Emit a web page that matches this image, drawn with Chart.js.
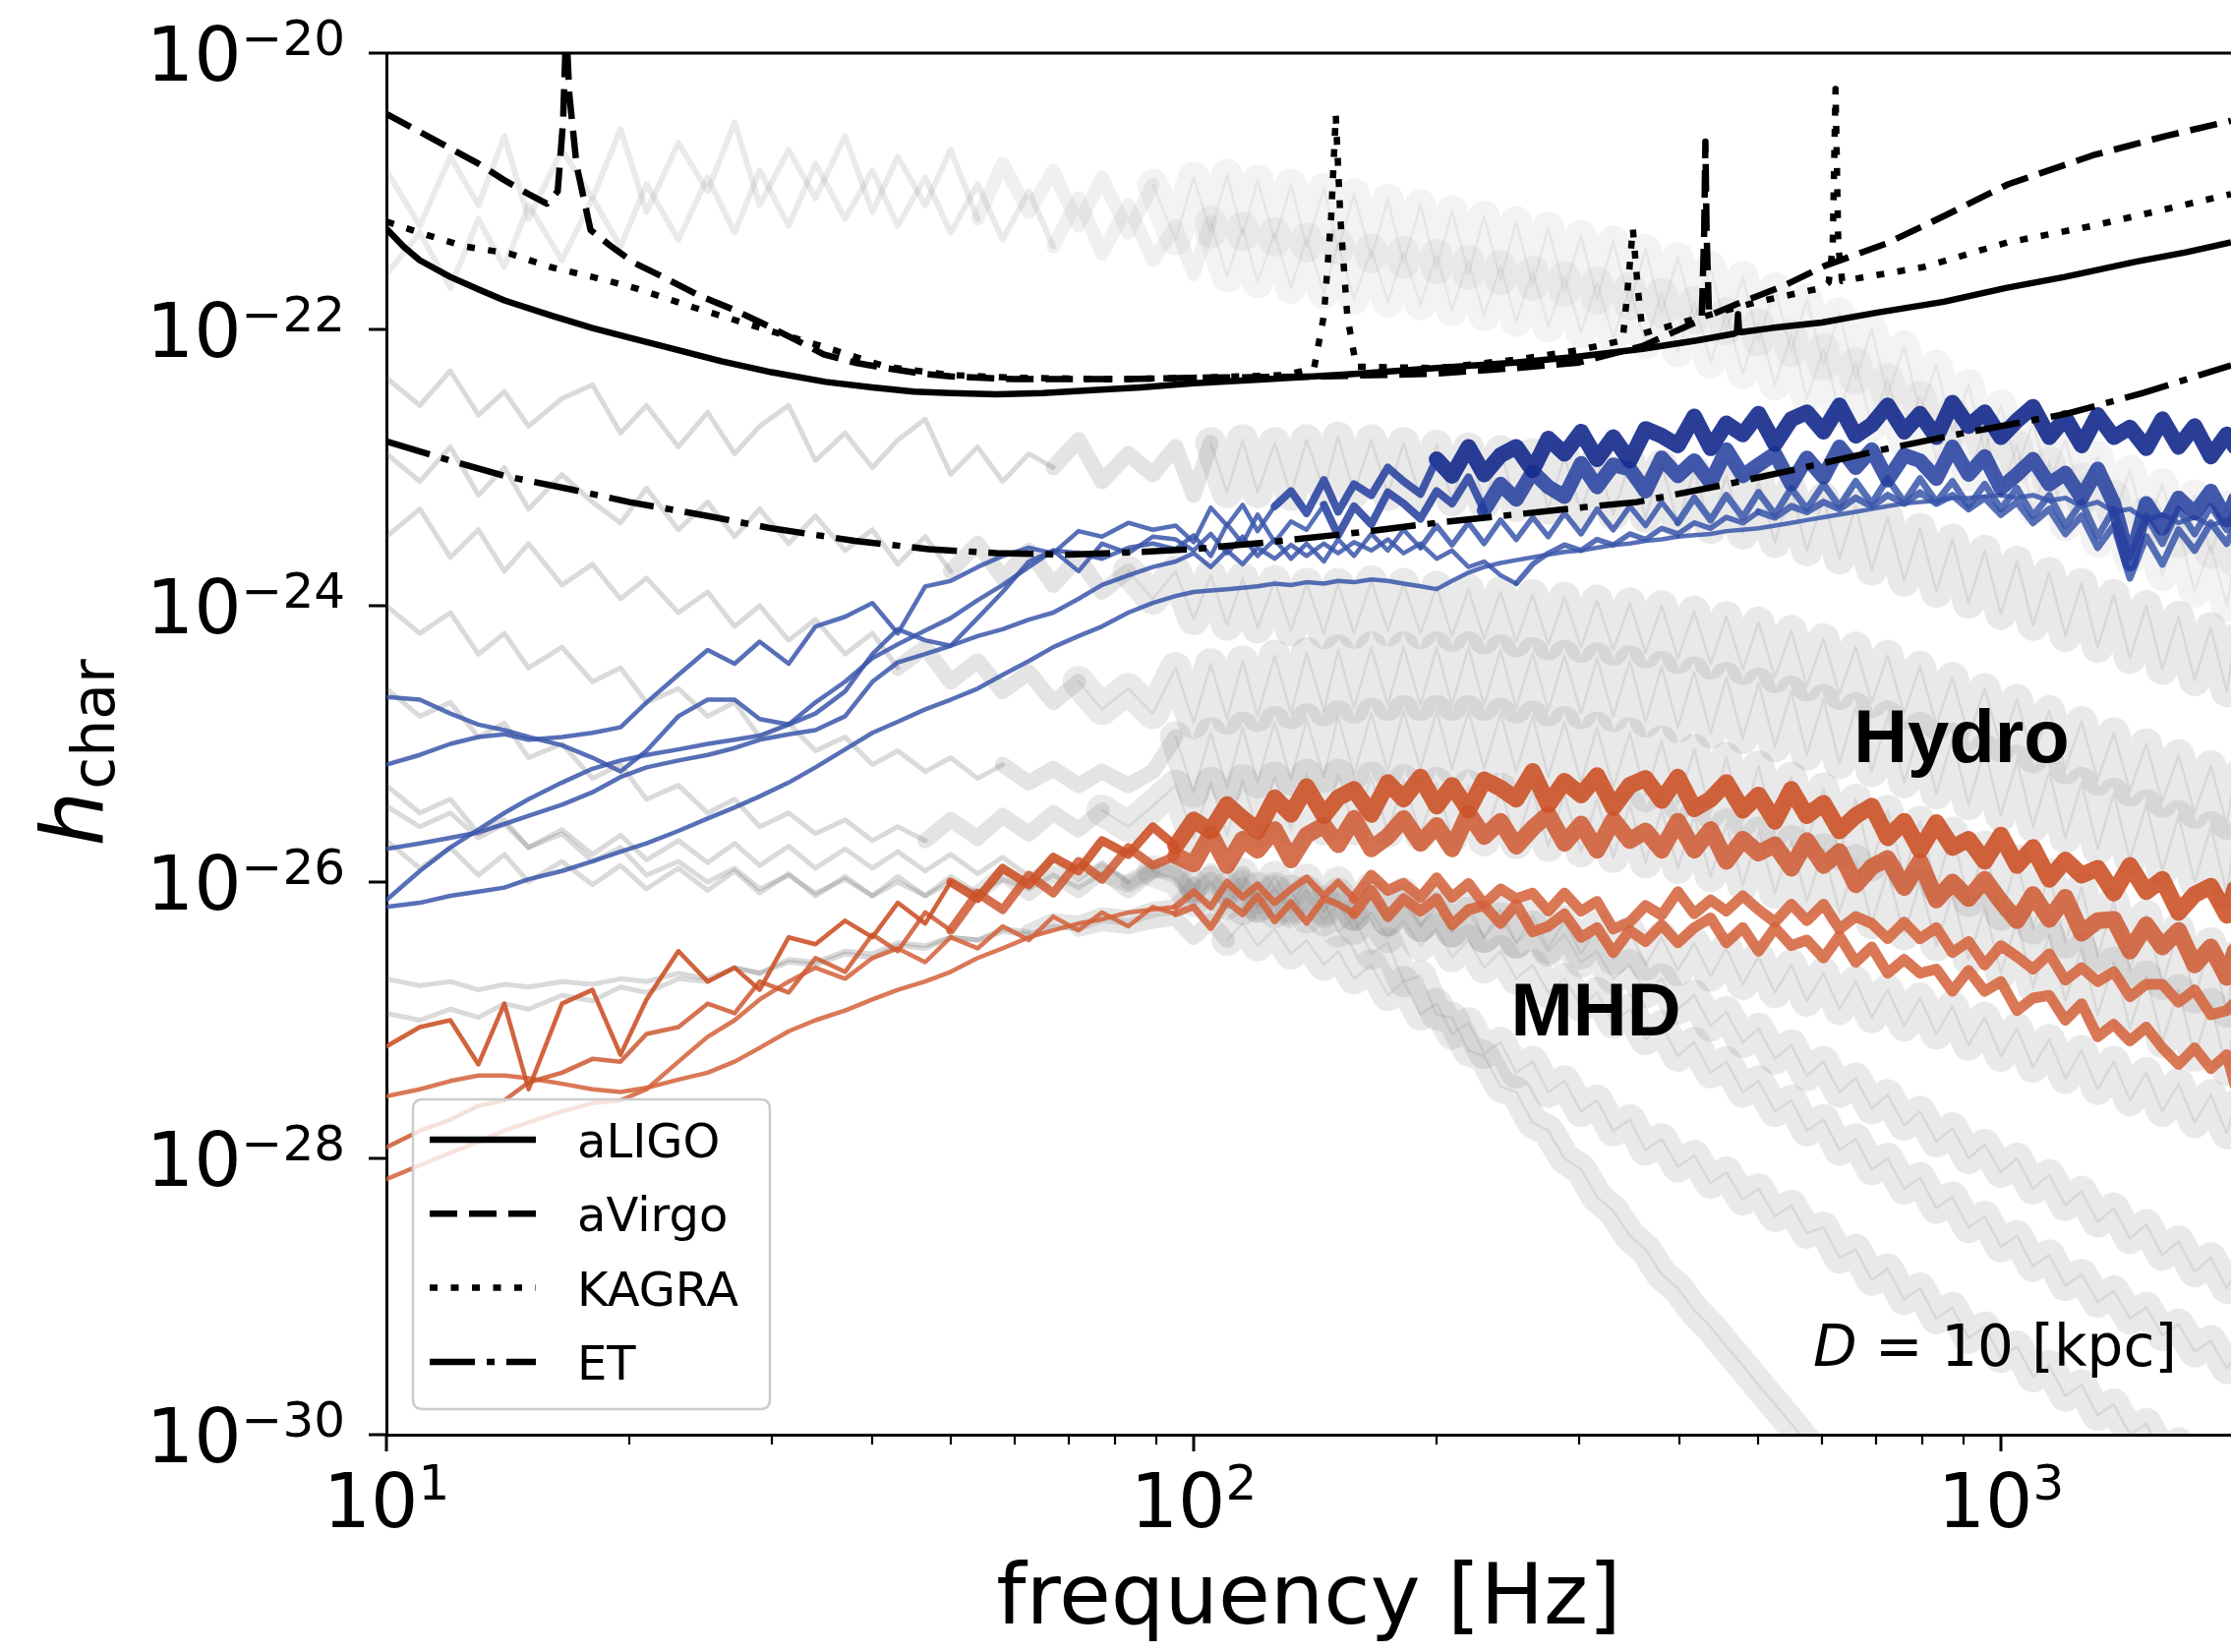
<!DOCTYPE html>
<html>
<head>
<meta charset="utf-8">
<title>h_char spectra vs detector sensitivities</title>
<script src="https://cdn.jsdelivr.net/npm/chart.js@4.4.1/dist/chart.umd.min.js"></script>
<style>
  html, body { margin: 0; padding: 0; background: #fff; }
</style>
</head>
<body>
<canvas id="mycanvas" width="2269" height="1680"></canvas>
<script>
// ---- data (all h values are log10 of h_char) ----

// frequency grid [Hz] of the simulated spectra
var freq = [10, 11, 12, 13, 14, 15, 16.5, 18, 19.5, 21, 23, 25, 27, 29, 31.5, 34, 37, 40, 43, 46.5, 50, 54, 58, 62.5, 67, 72, 77, 83, 89,
  95, 100, 105, 110, 115, 120, 126, 132, 138, 145, 151, 158, 166, 174, 182, 191, 200, 209, 219, 229, 240,
  251, 263, 275, 288, 302, 316, 331, 347, 363, 380, 398, 417, 437, 457, 479, 501, 525, 550, 575, 603,
  631, 661, 692, 724, 759, 794, 832, 871, 912, 955, 1000, 1047, 1096, 1148, 1202, 1259, 1318, 1380, 1445, 1514,
  1585, 1660, 1738, 1820, 1905, 1950];

// detector curves
var ligoF = [10, 10.5, 11, 12, 13, 14, 16, 18, 20, 23, 26, 30, 35, 40, 45, 50, 57, 65, 75, 86, 100, 124, 160, 200, 250, 297, 360, 420, 468, 471, 472.5, 474, 477, 520, 600, 700, 850, 1014, 1200, 1470, 1700, 1928];
var ligoH = [-21.27, -21.40, -21.50, -21.62, -21.71, -21.79, -21.90, -21.99, -22.06, -22.15, -22.23, -22.31, -22.38, -22.42, -22.45, -22.46, -22.47, -22.46, -22.44, -22.42, -22.39, -22.36, -22.32, -22.28, -22.24, -22.20, -22.14, -22.08, -22.03, -22.02, -21.89, -22.02, -22.02, -21.99, -21.95, -21.88, -21.80, -21.70, -21.62, -21.51, -21.44, -21.37];

var virgoF = [10, 11, 12, 13, 14, 15, 15.8, 16.3, 16.55, 16.7, 16.85, 17.2, 17.9, 19, 20.3, 22, 24.3, 27, 29.1, 32, 34.8, 38, 41.6, 46, 50, 60, 80, 100, 145, 200, 250, 300, 360, 400, 426, 429, 430.5, 432, 435, 474, 540, 605, 720, 850, 1020, 1300, 1600, 1928];
var virgoH = [-20.44, -20.57, -20.69, -20.80, -20.92, -21.02, -21.09, -21.00, -20.50, -19.80, -20.30, -20.81, -21.28, -21.40, -21.52, -21.62, -21.75, -21.86, -21.95, -22.07, -22.18, -22.24, -22.28, -22.32, -22.34, -22.36, -22.36, -22.35, -22.34, -22.32, -22.28, -22.24, -22.12, -22.00, -21.93, -21.30, -20.64, -21.30, -21.90, -21.81, -21.68, -21.54, -21.38, -21.18, -20.95, -20.74, -20.60, -20.49];

var kagraF = [10, 11, 12.5, 14.2, 16, 18, 20.3, 24, 29.1, 35, 41.6, 50, 60, 80, 100, 130, 141, 145, 148, 150, 152, 155, 159, 200, 250, 300, 340, 345, 350, 355, 360, 420, 500, 600, 612, 619, 624, 629, 636, 650, 800, 1020, 1300, 1600, 1928];
var kagraH = [-21.22, -21.30, -21.40, -21.45, -21.55, -21.62, -21.70, -21.84, -21.99, -22.13, -22.27, -22.33, -22.35, -22.36, -22.35, -22.33, -22.28, -21.90, -21.20, -20.45, -21.20, -21.90, -22.27, -22.28, -22.22, -22.15, -22.08, -21.70, -21.27, -21.70, -22.03, -21.92, -21.80, -21.70, -21.66, -21.40, -20.26, -21.40, -21.65, -21.64, -21.55, -21.37, -21.25, -21.13, -21.02];

var etF = [10, 12, 14, 17, 20, 25, 30, 38, 47, 57, 70, 86, 100, 124, 160, 200, 250, 300, 354, 450, 550, 714, 900, 1208, 1500, 1928];
var etH = [-22.81, -22.95, -23.06, -23.16, -23.25, -23.35, -23.44, -23.53, -23.59, -23.62, -23.63, -23.61, -23.59, -23.54, -23.47, -23.40, -23.34, -23.29, -23.25, -23.13, -23.02, -22.87, -22.75, -22.61, -22.46, -22.26];

// blue spectra (on freq)
var blueA = [-25.15, -25.08, -25.00, -24.95, -24.93, -24.97, -24.95, -24.92, -24.88, -24.70, -24.50, -24.32, -24.42, -24.26, -24.42, -24.15, -24.08, -23.98, -24.20, -23.86, -23.82, -23.72, -23.64, -23.58, -23.62, -23.46, -23.50, -23.40, -23.45,
  -23.42, -23.54, -23.29, -23.42, -23.27, -23.46, -23.28, -23.17, -23.33, -23.09,
  -23.32, -23.12, -23.20, -23.00, -23.10, -23.19, -22.94, -23.06, -22.85, -23.05,
  -22.91, -22.85, -23.02, -22.79, -22.90, -22.74, -22.94, -22.78, -22.95, -22.72,
  -22.77, -22.84, -22.63, -22.86, -22.68, -22.76, -22.61, -22.83, -22.65, -22.60,
  -22.74, -22.55, -22.77, -22.69, -22.55, -22.74, -22.61, -22.78, -22.53, -22.70,
  -22.60, -22.78, -22.66, -22.56, -22.78, -22.64, -22.84, -22.62, -22.78, -22.71,
  -22.86, -22.65, -22.85, -22.70, -22.92, -22.76, -22.85];
var blueB = [-26.13, -25.92, -25.75, -25.62, -25.50, -25.40, -25.28, -25.18, -25.12, -25.08, -25.04, -25.00, -24.97, -24.94, -24.86, -24.70, -24.55, -24.38, -24.28, -24.18, -24.09, -23.96, -23.85, -23.72, -23.60, -23.62, -23.66, -23.58, -23.55,
  -23.59, -23.49, -23.64, -23.41, -23.55, -23.34, -23.54, -23.39, -23.45, -23.27,
  -23.49, -23.28, -23.41, -23.18, -23.26, -23.37, -23.17, -23.26, -23.07, -23.31,
  -23.12, -23.23, -23.03, -23.14, -23.21, -22.97, -23.14, -22.98, -23.01, -23.17,
  -22.93, -23.06, -22.95, -23.11, -22.87, -23.06, -22.98, -22.90, -23.12, -22.93,
  -23.07, -22.85, -23.00, -22.87, -23.09, -22.91, -22.95, -23.08, -22.85, -23.05,
  -22.92, -23.15, -23.05, -22.94, -23.12, -23.04, -23.22, -23.01, -23.26, -23.70,
  -23.26, -23.44, -23.22, -23.33, -23.17, -23.38, -23.23];
var blueC = [-24.66, -24.68, -24.78, -24.86, -24.90, -24.95, -25.01, -25.10, -25.20, -25.05, -24.80, -24.68, -24.68, -24.82, -24.86, -24.78, -24.62, -24.35, -24.17, -24.25, -24.29, -24.09, -23.90, -23.68, -23.60, -23.75, -23.55, -23.62, -23.50,
  -23.52, -23.60, -23.48, -23.62, -23.50, -23.64, -23.52, -23.66, -23.55, -23.68,
  -23.52, -23.64, -23.48, -23.60, -23.45, -23.58, -23.42, -23.56, -23.40, -23.55,
  -23.38, -23.52, -23.36, -23.50, -23.33, -23.48, -23.30, -23.45, -23.28, -23.42,
  -23.25, -23.40, -23.22, -23.38, -23.20, -23.36, -23.18, -23.34, -23.15, -23.30,
  -23.12, -23.28, -23.10, -23.26, -23.08, -23.25, -23.08, -23.25, -23.10, -23.28,
  -23.12, -23.30, -23.15, -23.35, -23.20, -23.42, -23.25, -23.50, -23.30, -23.65,
  -23.35, -23.55, -23.30, -23.48, -23.28, -23.45, -23.30];
var blueD = [-25.76, -25.72, -25.68, -25.64, -25.58, -25.52, -25.44, -25.35, -25.24, -25.17, -25.12, -25.08, -25.03, -24.97, -24.93, -24.90, -24.80, -24.55, -24.41, -24.35, -24.29, -24.22, -24.17, -24.10, -24.05, -23.95, -23.85, -23.78, -23.72,
  -23.68, -23.62, -23.72, -23.60, -23.70, -23.58, -23.66, -23.56, -23.64, -23.55,
  -23.62, -23.54, -23.60, -23.52, -23.62, -23.55, -23.66, -23.60, -23.72, -23.68,
  -23.78, -23.84, -23.70, -23.62, -23.56, -23.60, -23.52, -23.56, -23.48, -23.52,
  -23.44, -23.48, -23.40, -23.44, -23.36, -23.40, -23.32, -23.36, -23.28, -23.32,
  -23.25, -23.30, -23.22, -23.28, -23.20, -23.26, -23.18, -23.26, -23.20, -23.30,
  -23.22, -23.34, -23.25, -23.40, -23.30, -23.48, -23.35, -23.58, -23.42, -23.80,
  -23.50, -23.70, -23.45, -23.60, -23.40, -23.55, -23.42];
var blueE = [-26.18, -26.15, -26.10, -26.07, -26.04, -25.98, -25.92, -25.85, -25.78, -25.72, -25.63, -25.54, -25.46, -25.38, -25.28, -25.17, -25.04, -24.92, -24.84, -24.75, -24.68, -24.60, -24.50, -24.40, -24.30, -24.22, -24.15, -24.05, -23.98,
  -23.93, -23.90, -23.89, -23.88, -23.87, -23.86, -23.84, -23.85, -23.83, -23.84,
  -23.82, -23.83, -23.81, -23.82, -23.84, -23.86, -23.88, -23.82, -23.76, -23.72,
  -23.69, -23.67, -23.65, -23.63, -23.61, -23.60, -23.58, -23.56, -23.55, -23.53,
  -23.52, -23.50, -23.49, -23.48, -23.46, -23.45, -23.44, -23.42, -23.40, -23.38,
  -23.36, -23.34, -23.32, -23.30, -23.28, -23.26, -23.25, -23.24, -23.22, -23.22,
  -23.21, -23.20, -23.22, -23.20, -23.24, -23.22, -23.28, -23.25, -23.32, -23.30,
  -23.38, -23.34, -23.40, -23.36, -23.42, -23.38, -23.40];

// orange spectra (on freq)
var orangeA = [-27.19, -27.05, -27.00, -27.32, -26.88, -27.50, -26.88, -26.78, -27.25, -26.85, -26.50, -26.72, -26.62, -26.78, -26.40, -26.45, -26.28, -26.40, -26.15, -26.30, -26.00, -26.12, -25.90, -26.02, -25.82, -25.92, -25.70, -25.80, -25.60,
  -25.74, -25.55, -25.63, -25.44, -25.54, -25.63, -25.39, -25.51, -25.31, -25.52,
  -25.39, -25.33, -25.51, -25.28, -25.40, -25.24, -25.45, -25.30, -25.48, -25.26,
  -25.32, -25.40, -25.20, -25.44, -25.27, -25.37, -25.23, -25.46, -25.30, -25.25,
  -25.41, -25.24, -25.47, -25.40, -25.28, -25.48, -25.37, -25.56, -25.33, -25.52,
  -25.43, -25.63, -25.52, -25.45, -25.68, -25.56, -25.77, -25.57, -25.75, -25.69,
  -25.85, -25.66, -25.88, -25.75, -25.98, -25.84, -25.95, -25.90, -26.08, -25.88,
  -26.07, -25.98, -26.22, -26.09, -26.03, -26.24, -26.05];
var orangeB = [-27.92, -27.80, -27.72, -27.62, -27.58, -27.45, -27.38, -27.28, -27.30, -27.10, -27.05, -26.88, -26.95, -26.72, -26.80, -26.55, -26.65, -26.38, -26.50, -26.22, -26.35, -26.08, -26.20, -25.95, -26.08, -25.85, -25.98, -25.75, -25.88,
  -25.81, -25.87, -25.65, -25.88, -25.69, -25.77, -25.62, -25.84, -25.66, -25.59,
  -25.73, -25.54, -25.76, -25.67, -25.54, -25.72, -25.59, -25.76, -25.50, -25.67,
  -25.56, -25.74, -25.61, -25.51, -25.72, -25.58, -25.77, -25.55, -25.70, -25.63,
  -25.77, -25.56, -25.77, -25.62, -25.85, -25.69, -25.79, -25.73, -25.90, -25.70,
  -25.88, -25.78, -26.02, -25.89, -25.83, -26.04, -25.85, -26.13, -26.00, -26.12,
  -25.98, -26.14, -26.28, -26.09, -26.27, -26.11, -26.37, -26.28, -26.27, -26.50,
  -26.31, -26.47, -26.35, -26.60, -26.47, -26.69, -26.50];
var orangeC = [-27.55, -27.50, -27.44, -27.40, -27.40, -27.42, -27.46, -27.50, -27.52, -27.49, -27.43, -27.38, -27.30, -27.20, -27.08, -27.00, -26.93, -26.85, -26.78, -26.72, -26.65, -26.55, -26.48, -26.40, -26.35, -26.30, -26.27, -26.22, -26.20,
  -26.18, -26.07, -26.18, -26.00, -26.11, -26.02, -26.15, -26.05, -25.97, -26.10,
  -26.00, -26.12, -25.95, -26.06, -26.01, -26.11, -25.97, -26.11, -26.01, -26.16,
  -26.05, -26.12, -26.08, -26.21, -26.08, -26.21, -26.14, -26.34, -26.29, -26.17,
  -26.24, -26.07, -26.23, -26.13, -26.21, -26.10, -26.20, -26.29, -26.16, -26.28,
  -26.16, -26.34, -26.25, -26.30, -26.41, -26.29, -26.41, -26.33, -26.51, -26.43,
  -26.60, -26.46, -26.54, -26.63, -26.52, -26.71, -26.62, -26.72, -26.65, -26.83,
  -26.74, -26.74, -26.87, -26.78, -26.96, -26.93, -26.87];
var orangeD = [-28.15, -28.05, -27.96, -27.88, -27.80, -27.74, -27.66, -27.60, -27.58, -27.50, -27.30, -27.12, -27.00, -26.85, -26.72, -26.62, -26.70, -26.55, -26.48, -26.58, -26.40, -26.48, -26.32, -26.42, -26.25, -26.35, -26.22, -26.32, -26.18,
  -26.23, -26.18, -26.33, -26.14, -26.23, -26.10, -26.28, -26.15, -26.29, -26.12,
  -26.16, -26.23, -26.06, -26.25, -26.12, -26.21, -26.12, -26.31, -26.20, -26.17,
  -26.30, -26.16, -26.36, -26.32, -26.23, -26.40, -26.33, -26.51, -26.35, -26.43,
  -26.31, -26.44, -26.33, -26.26, -26.44, -26.33, -26.50, -26.33, -26.46, -26.42,
  -26.55, -26.39, -26.58, -26.47, -26.66, -26.56, -26.66, -26.63, -26.79, -26.64,
  -26.79, -26.72, -26.93, -26.84, -26.82, -27.00, -26.88, -27.12, -27.03, -27.15,
  -27.05, -27.20, -27.32, -27.20, -27.35, -27.25, -27.47];

// grey background spectra (on freq)
var greyA = [-20.85, -21.25, -20.75, -21.10, -20.60, -21.20, -20.70, -21.05, -20.55, -21.15, -20.65, -21.00, -20.50, -21.10, -20.70, -21.05, -20.60, -21.15, -20.75, -21.10, -20.70, -21.20, -20.80, -21.15, -20.85, -21.25, -20.90, -21.30, -20.95,
  -21.35, -20.90, -21.30, -20.88, -21.32, -20.92, -21.36, -20.95, -21.40, -20.98,
  -21.42, -21.02, -21.48, -21.06, -21.52, -21.10, -21.56, -21.14, -21.60, -21.18,
  -21.64, -21.22, -21.68, -21.26, -21.72, -21.32, -21.78, -21.36, -21.82, -21.42,
  -21.88, -21.48, -21.92, -21.55, -22.00, -21.62, -22.08, -21.70, -22.16, -21.78,
  -22.26, -21.88, -22.36, -22.00, -22.48, -22.12, -22.60, -22.26, -22.74, -22.40,
  -22.88, -22.55, -23.00, -22.68, -23.12, -22.80, -23.24, -22.92, -23.36, -23.02,
  -23.46, -23.12, -23.54, -23.20, -23.62, -23.28, -23.68];
var greyB = [-21.60, -21.30, -21.70, -21.20, -21.55, -21.10, -21.50, -21.05, -21.40, -20.95, -21.35, -20.90, -21.30, -20.85, -21.25, -20.80, -21.20, -20.85, -21.25, -20.90, -21.30, -20.95, -21.35, -21.00, -21.40, -21.05, -21.45, -21.10, -21.50,
  -21.25, -21.60, -21.22, -21.62, -21.26, -21.66, -21.30, -21.70, -21.34, -21.74,
  -21.38, -21.78, -21.42, -21.80, -21.44, -21.82, -21.46, -21.86, -21.50, -21.90,
  -21.54, -21.94, -21.58, -21.98, -21.62, -22.02, -21.66, -22.06, -21.70, -22.10,
  -21.74, -22.16, -21.80, -22.24, -21.88, -22.32, -21.96, -22.40, -22.04, -22.50,
  -22.14, -22.60, -22.24, -22.70, -22.36, -22.82, -22.48, -22.94, -22.60, -23.06,
  -22.72, -23.18, -22.84, -23.30, -22.96, -23.42, -23.08, -23.54, -23.20, -23.66,
  -23.32, -23.78, -23.44, -23.90, -23.56, -24.00, -23.66];
var greyC = [-22.35, -22.55, -22.30, -22.62, -22.45, -22.70, -22.50, -22.40, -22.75, -22.55, -22.85, -22.60, -22.90, -22.70, -22.55, -22.95, -22.75, -23.00, -22.80, -22.65, -23.05, -22.85, -23.10, -22.90, -23.00, -22.80, -23.10, -22.90, -23.05,
  -22.85, -23.20, -22.82, -23.18, -22.80, -23.18, -22.82, -23.20, -22.80, -23.16,
  -22.78, -23.18, -22.80, -23.20, -22.82, -23.22, -22.84, -23.24, -22.86, -23.26,
  -22.88, -23.28, -22.90, -23.30, -22.92, -23.32, -22.94, -23.34, -22.96, -23.36,
  -22.98, -23.40, -23.02, -23.44, -23.06, -23.48, -23.10, -23.54, -23.16, -23.60,
  -23.22, -23.66, -23.28, -23.74, -23.36, -23.82, -23.44, -23.90, -23.52, -23.98,
  -23.60, -24.06, -23.68, -24.14, -23.76, -24.22, -23.84, -24.30, -23.92, -24.38,
  -24.00, -24.46, -24.08, -24.54, -24.16, -24.62, -24.24];
var greyD = [-22.90, -23.10, -22.85, -23.20, -23.00, -23.30, -23.05, -23.25, -23.40, -23.15, -23.45, -23.25, -23.50, -23.30, -23.55, -23.35, -23.60, -23.45, -23.70, -23.50, -23.75, -23.55, -23.80, -23.60, -23.85, -23.65, -23.90, -23.75, -23.95,
  -23.75, -24.10, -23.78, -24.14, -23.80, -24.16, -23.82, -24.18, -23.84, -24.20,
  -23.84, -24.20, -23.82, -24.18, -23.84, -24.20, -23.86, -24.22, -23.88, -24.24,
  -23.90, -24.26, -23.92, -24.28, -23.94, -24.30, -23.96, -24.32, -23.98, -24.34,
  -24.00, -24.38, -24.04, -24.42, -24.08, -24.46, -24.12, -24.52, -24.18, -24.58,
  -24.24, -24.64, -24.30, -24.70, -24.36, -24.78, -24.44, -24.86, -24.52, -24.94,
  -24.60, -25.02, -24.68, -25.10, -24.76, -25.18, -24.84, -25.26, -24.92, -25.34,
  -25.00, -25.42, -25.08, -25.50, -25.16, -25.58, -25.24];
var greyE = [-23.50, -23.30, -23.65, -23.45, -23.75, -23.55, -23.85, -23.70, -23.95, -23.80, -24.05, -23.90, -24.15, -24.00, -24.25, -24.10, -24.35, -24.20, -24.45, -24.30, -24.55, -24.40, -24.62, -24.48, -24.70, -24.55, -24.75, -24.60, -24.78,
  -24.45, -24.85, -24.42, -24.82, -24.40, -24.80, -24.36, -24.78, -24.34, -24.76,
  -24.32, -24.74, -24.30, -24.72, -24.30, -24.72, -24.30, -24.72, -24.30, -24.72,
  -24.32, -24.74, -24.34, -24.76, -24.36, -24.78, -24.38, -24.80, -24.40, -24.84,
  -24.44, -24.88, -24.48, -24.92, -24.52, -24.96, -24.56, -25.02, -24.62, -25.08,
  -24.68, -25.14, -24.74, -25.20, -24.80, -25.28, -24.88, -25.36, -24.96, -25.44,
  -25.04, -25.52, -25.12, -25.60, -25.20, -25.68, -25.28, -25.76, -25.36, -25.84,
  -25.44, -25.92, -25.52, -26.00, -25.60, -26.08, -25.68];
var greyF = [-24.00, -24.20, -24.05, -24.35, -24.20, -24.45, -24.30, -24.55, -24.45, -24.70, -24.60, -24.80, -24.70, -24.95, -24.85, -25.05, -24.95, -25.15, -25.05, -25.20, -25.10, -25.25, -25.15, -25.28, -25.18, -25.30, -25.20, -25.30, -25.20,
  -24.95, -25.35, -24.92, -25.32, -24.88, -25.28, -24.84, -25.26, -24.82, -25.24,
  -24.80, -25.22, -24.78, -25.20, -24.76, -25.18, -24.76, -25.18, -24.76, -25.18,
  -24.78, -25.20, -24.80, -25.24, -24.84, -25.28, -24.88, -25.32, -24.92, -25.38,
  -24.98, -25.44, -25.04, -25.50, -25.10, -25.56, -25.16, -25.64, -25.24, -25.72,
  -25.32, -25.80, -25.40, -25.88, -25.48, -25.96, -25.56, -26.04, -25.64, -26.14,
  -25.74, -26.24, -25.84, -26.34, -25.94, -26.44, -26.04, -26.54, -26.14, -26.64,
  -26.24, -26.74, -26.34, -26.84, -26.44, -26.94, -26.54];
var greyG = [-24.60, -24.80, -24.70, -24.95, -24.85, -25.10, -25.00, -25.25, -25.15, -25.40, -25.30, -25.50, -25.40, -25.60, -25.50, -25.65, -25.55, -25.70, -25.60, -25.70, -25.55, -25.68, -25.52, -25.65, -25.50, -25.62, -25.48, -25.60, -25.45,
  -25.30, -25.68, -25.28, -25.66, -25.26, -25.64, -25.24, -25.62, -25.22, -25.62,
  -25.22, -25.62, -25.24, -25.64, -25.26, -25.66, -25.28, -25.68, -25.30, -25.70,
  -25.32, -25.72, -25.34, -25.74, -25.36, -25.78, -25.40, -25.82, -25.44, -25.86,
  -25.48, -25.90, -25.52, -25.96, -25.58, -26.02, -25.64, -26.08, -25.70, -26.14,
  -25.76, -26.22, -25.84, -26.30, -25.92, -26.38, -26.00, -26.46, -26.08, -26.56,
  -26.18, -26.66, -26.28, -26.76, -26.38, -26.86, -26.48, -26.96, -26.58, -27.06,
  -26.68, -27.16, -26.78, -27.26, -26.88, -27.36, -26.98];
var greyH = [-25.30, -25.50, -25.40, -25.65, -25.55, -25.75, -25.65, -25.85, -25.75, -25.95, -25.85, -26.00, -25.90, -26.05, -25.95, -26.08, -25.98, -26.10, -26.00, -26.10, -26.00, -26.08, -25.98, -26.05, -25.95, -26.04, -25.94, -26.02, -25.92,
  -25.90, -26.12, -25.92, -26.14, -25.94, -26.16, -25.96, -26.18, -25.98, -26.20,
  -26.00, -26.24, -26.04, -26.28, -26.08, -26.32, -26.12, -26.36, -26.16, -26.40,
  -26.20, -26.44, -26.24, -26.48, -26.28, -26.52, -26.32, -26.56, -26.36, -26.60,
  -26.40, -26.64, -26.44, -26.68, -26.48, -26.74, -26.54, -26.80, -26.60, -26.86,
  -26.66, -26.92, -26.72, -26.98, -26.78, -27.04, -26.84, -27.10, -26.90, -27.18,
  -26.98, -27.26, -27.06, -27.34, -27.14, -27.42, -27.22, -27.50, -27.30, -27.58,
  -27.38, -27.66, -27.46, -27.74, -27.54, -27.82, -27.62];
var greyI = [-26.70, -26.75, -26.72, -26.78, -26.74, -26.76, -26.72, -26.74, -26.70, -26.72, -26.66, -26.70, -26.62, -26.66, -26.58, -26.60, -26.52, -26.55, -26.46, -26.48, -26.40, -26.42, -26.34, -26.36, -26.28, -26.30, -26.24, -26.26, -26.20,
  -26.18, -26.02, -26.20, -26.04, -26.20, -26.04, -26.22, -26.06, -26.26, -26.14,
  -26.36, -26.26, -26.52, -26.44, -26.72, -26.68, -26.96, -26.98, -27.22, -27.26,
  -27.48, -27.52, -27.74, -27.80, -28.00, -28.08, -28.28, -28.38, -28.56, -28.66,
  -28.84, -28.94, -29.10, -29.22, -29.36, -29.50, -29.64, -29.78, -29.92, -30.06,
  -30.20, -30.32];
var greyJ = [-26.95, -27.00, -26.92, -26.98, -26.88, -26.92, -26.82, -26.86, -26.76, -26.80, -26.70, -26.72, -26.62, -26.66, -26.56, -26.58, -26.50, -26.52, -26.44, -26.46, -26.40, -26.42, -26.36, -26.38, -26.32, -26.34, -26.30, -26.32, -26.28,
  -26.26, -26.40, -26.28, -26.42, -26.30, -26.46, -26.34, -26.52, -26.42, -26.60,
  -26.50, -26.70, -26.60, -26.82, -26.72, -26.96, -26.88, -27.10, -27.02, -27.24,
  -27.16, -27.38, -27.30, -27.52, -27.44, -27.66, -27.58, -27.80, -27.72, -27.94,
  -27.86, -28.06, -27.98, -28.18, -28.10, -28.30, -28.22, -28.42, -28.34, -28.54,
  -28.50, -28.72, -28.66, -28.88, -28.80, -29.02, -28.94, -29.16, -29.08, -29.30,
  -29.22, -29.44, -29.36, -29.58, -29.50, -29.72, -29.64, -29.86, -29.78, -30.00,
  -29.92, -30.14, -30.06, -30.28, -30.20, -30.42, -30.34];
var greyK = [-25.70, -25.90, -25.75, -25.95, -25.80, -26.00, -25.85, -26.02, -25.88, -26.05, -25.90, -26.06, -25.92, -26.08, -25.94, -26.10, -25.96, -26.10, -25.96, -26.10, -25.96, -26.08, -25.94, -26.08, -25.94, -26.06, -25.92, -26.06, -25.92,
  -25.98, -26.14, -26.00, -26.16, -26.02, -26.18, -26.04, -26.20, -26.06, -26.22,
  -26.08, -26.24, -26.10, -26.28, -26.14, -26.32, -26.18, -26.36, -26.22, -26.40,
  -26.26, -26.44, -26.32, -26.50, -26.38, -26.58, -26.50, -26.70, -26.60, -26.80,
  -26.70, -26.92, -26.82, -27.04, -26.94, -27.16, -27.06, -27.28, -27.18, -27.40,
  -27.30, -27.52, -27.42, -27.64, -27.54, -27.76, -27.66, -27.88, -27.78, -28.00,
  -27.90, -28.10, -28.00, -28.22, -28.12, -28.34, -28.24, -28.46, -28.36, -28.58,
  -28.48, -28.70, -28.60, -28.82, -28.72, -28.94, -28.84];
var greyL = [-25.45, -25.60, -25.50, -25.68, -25.58, -25.75, -25.62, -25.80, -25.66, -25.84, -25.70, -25.86, -25.72, -25.88, -25.74, -25.90, -25.76, -25.90, -25.78, -25.92, -25.80, -25.94, -25.82, -25.96, -25.84, -25.98, -25.86, -26.00, -25.90,
  -25.95, -26.10, -25.98, -26.14, -26.02, -26.18, -26.06, -26.22, -26.10, -26.28,
  -26.16, -26.34, -26.22, -26.40, -26.28, -26.46, -26.34, -26.54, -26.42, -26.62,
  -26.50, -26.70, -26.60, -26.80, -26.70, -26.90, -26.80, -27.02, -26.92, -27.14,
  -27.04, -27.26, -27.16, -27.38, -27.30, -27.52, -27.44, -27.66, -27.58, -27.80,
  -27.72, -27.94, -27.86, -28.08, -28.00, -28.22, -28.14, -28.36, -28.28, -28.50,
  -28.42, -28.64, -28.56, -28.78, -28.70, -28.92, -28.84, -29.04, -28.96, -29.16,
  -29.08, -29.28, -29.20, -29.40, -29.32, -29.52, -29.44];

// axis ticks
var xMajor = [10, 100, 1000];
var xMinor = [20, 30, 40, 50, 60, 70, 80, 90, 200, 300, 400, 500, 600, 700, 800, 900];
var yMajorExp = [-20, -22, -24, -26, -28, -30];

// ---- build datasets ----
function toPoints(fs, hs) {
  var pts = [];
  for (var i = 0; i < hs.length; i++) {
    pts.push({x: fs[i], y: Math.pow(10, hs[i])});
  }
  return pts;
}

var DASHED = [28, 12];
var DOTTED = [8, 13.5];
var DASHDOT = [46, 12, 8, 12];

var detectors = [
  {label: 'aLIGO', f: ligoF, h: ligoH, dash: []},
  {label: 'aVirgo', f: virgoF, h: virgoH, dash: DASHED},
  {label: 'KAGRA', f: kagraF, h: kagraH, dash: DOTTED},
  {label: 'ET', f: etF, h: etH, dash: DASHDOT}
];

var datasets = [];
function addLine(label, fs, hs, color, width, dash, cap) {
  datasets.push({
    label: label,
    data: toPoints(fs, hs),
    borderColor: color,
    borderWidth: width,
    borderDash: dash || [],
    borderCapStyle: cap || 'butt',
    borderJoinStyle: 'round',
    pointRadius: 0,
    fill: false,
    tension: 0,
    clip: 0
  });
}

// a spectrum is drawn in three pieces: sparse low-f part thin, dense high-f part as a wide stroke;
// an optional thin texture line is laid over the wide part
function addSpectrum(label, hs, s1, s2, cols, widths, texture) {
  var cuts = [0, s1, s2, hs.length - 1];
  for (var k = 0; k < 3; k++) {
    var lo = cuts[k], hi = Math.min(cuts[k + 1], hs.length - 1);
    if (hi <= lo) continue;
    if (k === 2 && texture) {
      addLine(label + ' texture', freq.slice(lo, hi + 1), hs.slice(lo, hi + 1), texture, 2.5, null, 'round');
    }
    addLine(label + ' part ' + k, freq.slice(lo, hi + 1), hs.slice(lo, hi + 1), cols[k], widths[k], null, 'round');
  }
}

// first dataset ends up on top
detectors.forEach(function(d) { addLine(d.label, d.f, d.h, '#000', 6.5, d.dash); });

var OR1 = 'rgba(204,82,40,0.9)';
var OR2 = 'rgba(206,90,50,0.86)';
var OR3 = 'rgba(212,98,58,0.86)';
addSpectrum('orange A', orangeA, 20, 29, [OR1, OR1, OR1], [4.5, 9, 17]);
addSpectrum('orange B', orangeB, 20, 29, [OR2, OR2, OR2], [4.5, 9, 17]);
addSpectrum('orange C', orangeC, 29, 40, [OR3, OR3, OR3], [4.5, 7, 11]);
addSpectrum('orange D', orangeD, 29, 40, [OR3, OR3, OR3], [4.5, 7, 11]);

var BLUE_D = 'rgba(24,46,142,0.92)';
var BLUE_M = 'rgba(36,62,158,0.86)';
var BLUE_L = 'rgba(58,86,170,0.85)';
addSpectrum('blue A', blueA, 35, 45, [BLUE_L, BLUE_M, BLUE_D], [4.5, 8, 16]);
addSpectrum('blue B', blueB, 38, 48, [BLUE_L, BLUE_M, BLUE_M], [4.5, 8, 15]);
addSpectrum('blue C', blueC, 44, 60, [BLUE_L, BLUE_L, BLUE_L], [4.5, 5.5, 7]);
addSpectrum('blue D', blueD, 50, 65, [BLUE_L, BLUE_L, BLUE_L], [4.5, 5.5, 7]);
addSpectrum('blue E', blueE, 60, 80, [BLUE_L, BLUE_L, BLUE_L], [4.5, 4.5, 5]);

var GREY_LINE = 'rgba(120,120,120,0.27)';
var GREY_MID = 'rgba(120,120,120,0.2)';
var GREY_BAND = 'rgba(120,120,120,0.16)';
var GREY_TEX = 'rgba(100,100,100,0.13)';
var GREYL_LINE = 'rgba(140,140,140,0.18)';
var GREYL_MID = 'rgba(140,140,140,0.13)';
var GREYL_BAND = 'rgba(140,140,140,0.1)';
var GREYL_TEX = 'rgba(120,120,120,0.1)';
addSpectrum('grey A', greyA, 21, 28, [GREYL_LINE, GREYL_MID, GREYL_BAND], [6, 14, 32], GREYL_TEX);
addSpectrum('grey B', greyB, 24, 31, [GREYL_LINE, GREYL_MID, GREYL_BAND], [6, 14, 32], GREYL_TEX);
// where each grey spectrum turns from a sparse line into a dense band (index into freq)
var greySets = [greyC, greyD, greyE, greyF, greyG, greyH, greyI, greyJ, greyK, greyL];
var greyBandStart = [31, 27, 25, 29, 26, 33, 30, 32, 28, 34];
greySets.forEach(function(g, i) {
  var s2 = greyBandStart[i];
  addSpectrum('grey ' + i, g, s2 - 7, s2, [GREY_LINE, GREY_MID, GREY_BAND], [5, 16, 32], GREY_TEX);
});

// ---- axes decorations, legend and labels ----
var BIG = '76px "DejaVu Sans"';
var SUP = '50px "DejaVu Sans"';

function roundRect(ctx, x, y, w, h, r) {
  ctx.beginPath();
  ctx.moveTo(x + r, y);
  ctx.lineTo(x + w - r, y);
  ctx.quadraticCurveTo(x + w, y, x + w, y + r);
  ctx.lineTo(x + w, y + h - r);
  ctx.quadraticCurveTo(x + w, y + h, x + w - r, y + h);
  ctx.lineTo(x + r, y + h);
  ctx.quadraticCurveTo(x, y + h, x, y + h - r);
  ctx.lineTo(x, y + r);
  ctx.quadraticCurveTo(x, y, x + r, y);
  ctx.closePath();
}

var overlay = {
  id: 'overlay',
  afterDraw: function(chart) {
    var ctx = chart.ctx, a = chart.chartArea;
    var xs = chart.scales.x, ys = chart.scales.y;
    ctx.save();
    ctx.strokeStyle = '#000';
    ctx.fillStyle = '#000';
    ctx.setLineDash([]);
    ctx.lineWidth = 3;

    // top spine
    ctx.beginPath(); ctx.moveTo(a.left, a.top); ctx.lineTo(a.right, a.top); ctx.stroke();

    // y ticks
    ctx.textBaseline = 'alphabetic';
    ctx.textAlign = 'left';
    yMajorExp.forEach(function(e) {
      var y = Math.round(ys.getPixelForValue(Math.pow(10, e)));
      ctx.lineWidth = 3;
      ctx.beginPath(); ctx.moveTo(a.left - 18, y); ctx.lineTo(a.left, y); ctx.stroke();
      var sup = '\u2212' + Math.abs(e);
      ctx.font = SUP;
      var sw = ctx.measureText(sup).width;
      ctx.font = BIG;
      var bw = ctx.measureText('10').width;
      var x0 = a.left - 42 - sw - bw;
      ctx.fillText('10', x0, y + 28);
      ctx.font = SUP;
      ctx.fillText(sup, x0 + bw, y + 2);
    });

    // x ticks
    xMajor.forEach(function(v) {
      var x = Math.round(xs.getPixelForValue(v));
      ctx.lineWidth = 3;
      ctx.beginPath(); ctx.moveTo(x, a.bottom); ctx.lineTo(x, a.bottom + 17); ctx.stroke();
      var sup = String(Math.round(Math.log10(v)));
      ctx.font = SUP;
      var sw = ctx.measureText(sup).width;
      ctx.font = BIG;
      var bw = ctx.measureText('10').width;
      var x0 = x - (bw + sw) / 2;
      ctx.fillText('10', x0, a.bottom + 94);
      ctx.font = SUP;
      ctx.fillText(sup, x0 + bw, a.bottom + 66);
    });
    ctx.lineWidth = 2.2;
    xMinor.forEach(function(v) {
      var x = Math.round(xs.getPixelForValue(v));
      ctx.beginPath(); ctx.moveTo(x, a.bottom); ctx.lineTo(x, a.bottom + 10); ctx.stroke();
    });

    // y axis title: h_char
    ctx.save();
    ctx.translate(104, (a.top + a.bottom) / 2 + 10);
    ctx.rotate(-Math.PI / 2);
    ctx.font = 'italic 88px "DejaVu Sans"';
    var hw = ctx.measureText('h').width;
    ctx.font = '60px "DejaVu Sans"';
    var cw = ctx.measureText('char').width;
    var s = -(hw + cw) / 2;
    ctx.font = 'italic 88px "DejaVu Sans"';
    ctx.fillText('h', s, 0);
    ctx.font = '60px "DejaVu Sans"';
    ctx.fillText('char', s + hw + 2, 12);
    ctx.restore();

    // text labels inside the plot
    ctx.font = 'bold 76px "Liberation Sans", Arial, sans-serif';
    ctx.textAlign = 'center';
    ctx.fillText('Hydro', xs.getPixelForValue(894), ys.getPixelForValue(Math.pow(10, -25.13)));
    ctx.fillText('MHD', xs.getPixelForValue(315), ys.getPixelForValue(Math.pow(10, -27.11)));

    ctx.textAlign = 'left';
    var dRight = xs.getPixelForValue(1652), dBase = ys.getPixelForValue(Math.pow(10, -29.5));
    ctx.font = 'italic 58px "DejaVu Sans"';
    var dw = ctx.measureText('D').width;
    ctx.font = '58px "DejaVu Sans"';
    var rest = ' = 10 [kpc]';
    var rw = ctx.measureText(rest).width;
    ctx.font = 'italic 58px "DejaVu Sans"';
    ctx.fillText('D', dRight - rw - dw, dBase);
    ctx.font = '58px "DejaVu Sans"';
    ctx.fillText(rest, dRight - rw, dBase);

    // legend (bottom-left, inside axes)
    var L = a.left + 27, T = a.bottom - 341, W = 363, H = 315;
    roundRect(ctx, L, T, W, H, 10);
    ctx.fillStyle = 'rgba(255,255,255,0.8)';
    ctx.fill();
    ctx.lineWidth = 2.5;
    ctx.strokeStyle = '#cccccc';
    ctx.stroke();
    ctx.font = '48px "DejaVu Sans"';
    ctx.fillStyle = '#000';
    ctx.strokeStyle = '#000';
    ctx.lineWidth = 6.5;
    ctx.lineCap = 'butt';
    detectors.forEach(function(d, i) {
      var y = T + 41 + i * 75.3;
      ctx.setLineDash(d.dash);
      ctx.beginPath(); ctx.moveTo(L + 17, y); ctx.lineTo(L + 125, y); ctx.stroke();
      ctx.setLineDash([]);
      ctx.fillText(d.label, L + 167, y + 18);
    });
    ctx.restore();
  }
};

var ctx = document.getElementById('mycanvas');
var chart = new Chart(ctx, {
  type: 'line',
  data: {datasets: datasets},
  options: {
    responsive: false,
    devicePixelRatio: 1,
    animation: false,
    events: [],
    layout: {padding: {top: 54, left: 0, right: 0, bottom: 0}},
    plugins: {legend: {display: false}, tooltip: {enabled: false}},
    scales: {
      x: {
        type: 'logarithmic',
        min: 10,
        max: 1928,
        grid: {display: false},
        border: {display: true, color: '#000', width: 3},
        ticks: {display: false},
        title: {
          display: true,
          text: 'frequency [Hz]',
          color: '#000',
          font: {family: 'DejaVu Sans', size: 86},
          padding: {top: 0, bottom: 0}
        },
        afterFit: function(scale) { scale.height = 221; }
      },
      y: {
        type: 'logarithmic',
        min: 1e-30,
        max: 1e-20,
        grid: {display: false},
        border: {display: true, color: '#000', width: 3},
        ticks: {display: false},
        afterFit: function(scale) { scale.width = 393; }
      }
    }
  },
  plugins: [overlay]
});
</script>
</body>
</html>
